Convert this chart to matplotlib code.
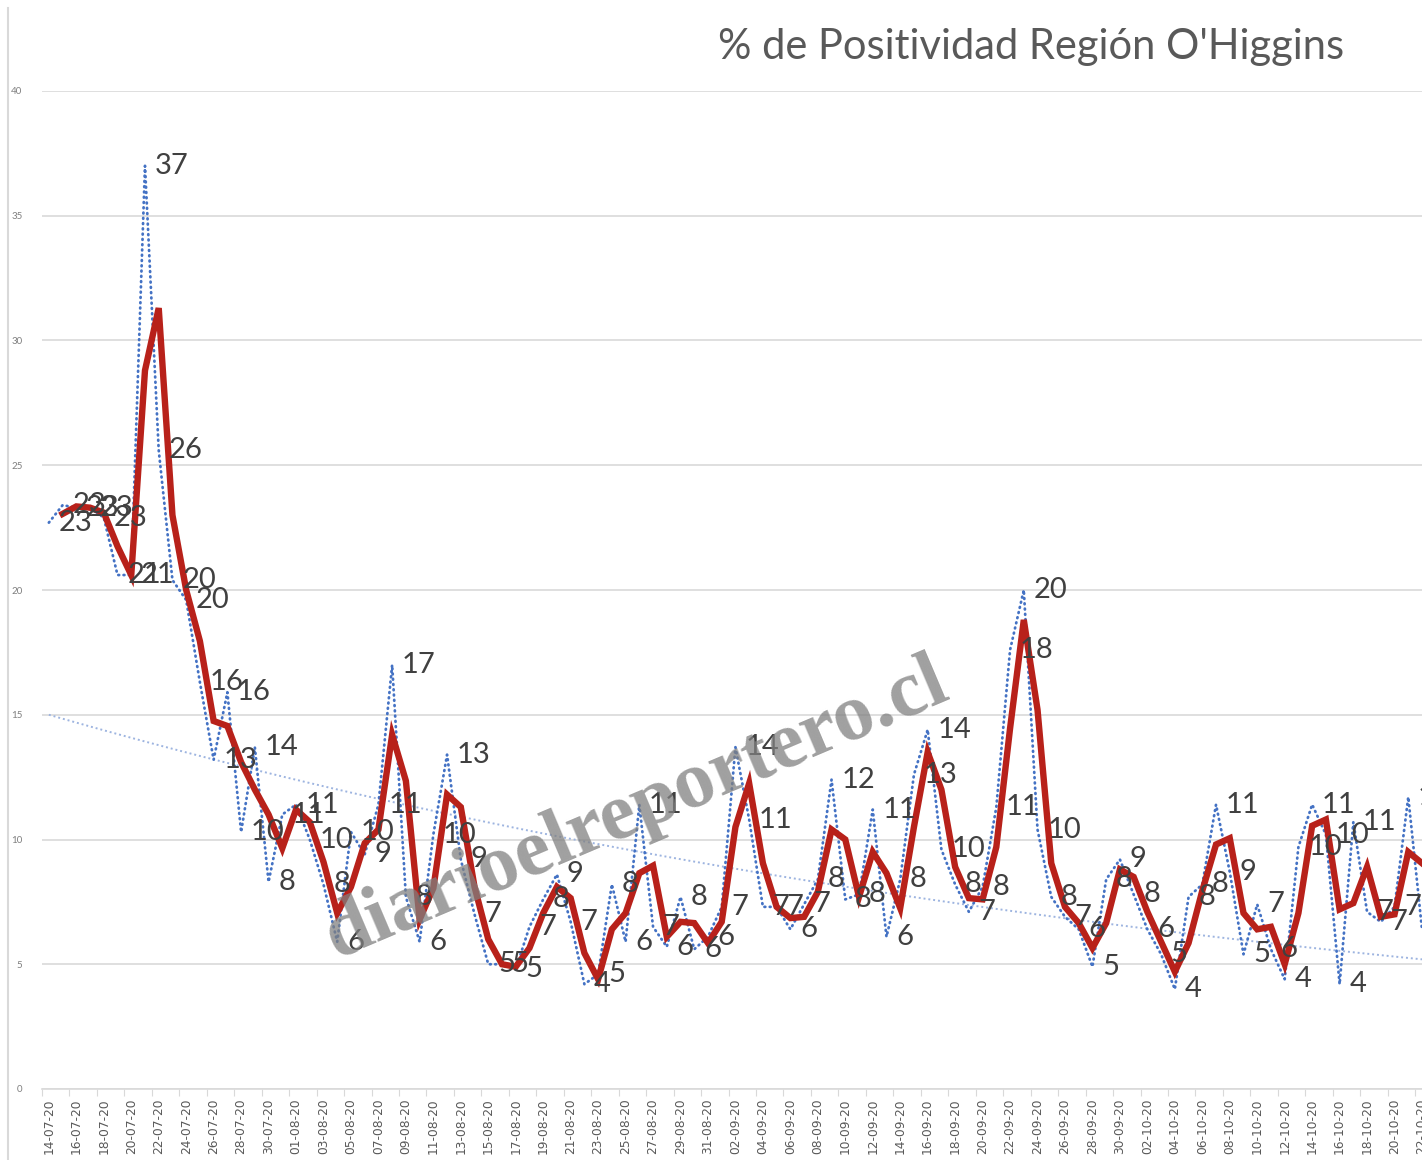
import numpy as np
import pandas as pd
import matplotlib
matplotlib.use('Agg')
import matplotlib.pyplot as plt

# daily positivity (%), 14-07-20 .. 22-10-20
start_date = '2020-07-14'
positividad = [22.7, 23.4, 23.3, 23.3, 22.9, 20.6, 20.6, 37.0, 25.6, 20.4,
               19.6, 16.3, 13.2, 15.9, 10.3, 13.7, 8.3, 11.0, 11.4, 10.0,
               8.2, 5.9, 10.3, 9.4, 11.4, 17.0, 7.7, 5.9, 10.2, 13.4,
               9.2, 7.0, 5.0, 5.0, 4.8, 6.5, 7.6, 8.6, 6.7, 4.2,
               4.6, 8.2, 5.9, 11.4, 6.5, 5.7, 7.7, 5.6, 6.1, 7.3,
               13.7, 10.8, 7.3, 7.3, 6.4, 7.4, 8.4, 12.4, 7.6, 7.8,
               11.2, 6.1, 8.4, 12.6, 14.4, 9.6, 8.2, 7.1, 8.1, 11.3,
               17.6, 20.0, 10.4, 7.7, 6.9, 6.4, 4.9, 8.4, 9.2, 7.8,
               6.4, 5.4, 4.0, 7.7, 8.2, 11.4, 8.7, 5.4, 7.4, 5.6,
               4.4, 9.7, 11.4, 10.2, 4.2, 10.7, 7.1, 6.7, 7.3, 11.7,
               6.4]
# exponential trendline y = a*exp(b*x)
tend_a = 15.0
tend_b = -0.0106
titulo = "% de Positividad Región O'Higgins"
marca = 'diarioelreportero.cl'

fechas = pd.date_range(start_date, periods=len(positividad), freq='D')
etiquetas = [f.strftime('%d-%m-%y') for f in fechas]

df = pd.DataFrame({'fecha': etiquetas, 'pos': positividad})
df['media'] = df['pos'].rolling(2).mean()   # 2 per. mov. avg.
x = np.arange(len(df))
df['tend'] = tend_a * np.exp(tend_b * x)

plt.rcParams['font.family'] = ['Lato', 'DejaVu Sans']

fig = plt.figure(figsize=(14.22, 11.6), dpi=100)
ax = fig.add_axes([42 / 1422, 71 / 1160, 1 - 42 / 1422, (1089 - 91) / 1160])

ax.plot(x, df['tend'], color='#9db4e0', lw=1.4, ls=(0, (1, 1.5)), zorder=2)
ax.plot(x, df['pos'], color='#4472c4', lw=2.0, ls=(0, (0.3, 1.6)),
        dash_capstyle='round', zorder=3)
ax.plot(x, df['media'], color='#b8211a', lw=4.6, solid_joinstyle='miter', zorder=4)

for i, v in zip(x, df['pos']):
    t = ax.annotate(str(int(np.floor(v + 0.5))), xy=(i, v), xytext=(7, 0),
                    textcoords='offset points', ha='left', va='center',
                    fontsize=21, color='#404040', zorder=5)
    t.set_clip_on(True)

ax.set_xlim(-0.5, (1422 - 42) / 13.75 - 0.5)
ax.set_ylim(0, 40)
ax.set_yticks(np.arange(0, 41, 5))
ax.tick_params(axis='y', length=0, labelsize=7, labelcolor='#7f7f7f', pad=14)
ax.grid(axis='y', color='#d9d9d9', lw=1.2)
ax.set_axisbelow(True)

ax.set_xticks(np.arange(-0.5, len(df), 2))
ax.set_xticklabels([])
ax.set_xticks(x[::2], minor=True)
ax.set_xticklabels(etiquetas[::2], minor=True, rotation=90, fontsize=8.8,
                   color='#595959', family='DejaVu Sans')
ax.tick_params(axis='x', which='major', length=5, color='#d9d9d9')
ax.tick_params(axis='x', which='minor', length=0, pad=7)

for s in ['left', 'right', 'top']:
    ax.spines[s].set_visible(False)
ax.spines['bottom'].set_color('#d9d9d9')
ax.spines['bottom'].set_linewidth(1.2)

fig.text(1031 / 1422, 1 - 47 / 1160, titulo, ha='center', va='center',
         fontsize=30, color='#595959')

# chart area border on the left
fig.add_artist(plt.Line2D([8 / 1422, 8 / 1422], [0, 1 - 8 / 1160],
                          color='#d9d9d9', lw=1.5))

fig.text(637 / 1422, 1 - 810 / 1160, marca, ha='center', va='center',
         rotation=23, fontsize=58, fontweight='bold', family='Liberation Serif',
         color='#808080', alpha=0.75, zorder=10)

plt.savefig('out.png', dpi=100)
